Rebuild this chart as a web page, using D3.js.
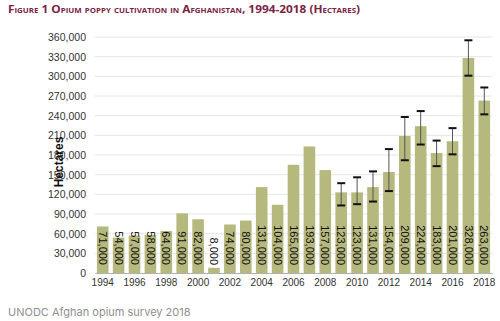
<!DOCTYPE html>
<meta charset="utf-8">
<script src="https://d3js.org/d3.v7.min.js"></script>
<style>
  body { margin: 0; background: #fff; }
</style>
<div id="chart"></div>
<script>
// data
var years = [1994, 1995, 1996, 1997, 1998, 1999, 2000, 2001, 2002, 2003, 2004, 2005, 2006,
             2007, 2008, 2009, 2010, 2011, 2012, 2013, 2014, 2015, 2016, 2017, 2018];
var hectares = [71000, 54000, 57000, 58000, 64000, 91000, 82000, 8000, 74000, 80000, 131000, 104000, 165000,
                193000, 157000, 123000, 123000, 131000, 154000, 209000, 224000, 183000, 201000, 328000, 263000];
// error bar ranges (2009-2018)
var errYears = [2009, 2010, 2011, 2012, 2013, 2014, 2015, 2016, 2017, 2018];
var errLow  = [103000, 105000, 109000, 125000, 172000, 196000, 163000, 181000, 301000, 242000];
var errHigh = [137000, 146000, 155000, 189000, 238000, 247000, 202000, 221000, 355000, 283000];
var yTicks = d3.range(0, 360001, 30000);
var xTickYears = years.filter(function(d) { return d % 2 === 0; });

var W = 500, H = 321;
var svg = d3.select("#chart").append("svg")
  .attr("width", W).attr("height", H);

var x = d3.scaleBand()
  .domain(years)
  .range([94.75, 492.25])
  .paddingInner(0.27)
  .paddingOuter(0.135);

var y = d3.scaleLinear()
  .domain([0, 360000])
  .range([273, 37]);

// title
svg.append("text")
  .attr("x", 8).attr("y", 13)
  .attr("textLength", 352)
  .attr("lengthAdjust", "spacingAndGlyphs")
  .style("font-family", "'Open Sans', 'Liberation Sans', sans-serif")
  .style("font-weight", "bold")
  .style("font-size", "10.5px")
  .style("font-variant", "small-caps")
  .style("fill", "#7b2346")
  .text("Figure 1 Opium poppy cultivation in Afghanistan, 1994-2018 (Hectares)");

// gridlines
svg.append("g")
  .selectAll("line")
  .data(yTicks.filter(function(d) { return d > 0; }))
  .enter().append("line")
    .attr("x1", 94.75).attr("x2", 492.25)
    .attr("y1", function(d) { return y(d); })
    .attr("y2", function(d) { return y(d); })
    .attr("stroke", "#e6e6e6")
    .attr("stroke-width", 1);

// y axis
var yAxis = svg.append("g")
  .attr("transform", "translate(86,0)")
  .call(d3.axisLeft(y).tickValues(yTicks).tickSize(0).tickPadding(0)
    .tickFormat(d3.format(",")));
yAxis.select(".domain").remove();
yAxis.selectAll("text")
  .style("font-family", "'Liberation Sans', Arial, sans-serif")
  .style("font-size", "10.5px")
  .style("fill", "#333");

// bars
svg.append("g")
  .selectAll("rect")
  .data(years)
  .enter().append("rect")
    .attr("x", function(d) { return x(d); })
    .attr("y", function(d, i) { return y(hectares[i]); })
    .attr("width", x.bandwidth())
    .attr("height", function(d, i) { return y(0) - y(hectares[i]); })
    .attr("fill", "#b5b97d");

// x axis
var xAxis = svg.append("g")
  .attr("transform", "translate(0,273)")
  .call(d3.axisBottom(x).tickValues(xTickYears).tickSize(0).tickPadding(6));
xAxis.select(".domain").attr("stroke", "#b0b0b0");
xAxis.selectAll("text")
  .style("font-family", "'Liberation Sans', Arial, sans-serif")
  .style("font-size", "10px")
  .style("fill", "#333");

// error bars
var eb = svg.append("g").selectAll("g")
  .data(errYears)
  .enter().append("g")
    .attr("transform", function(d) { return "translate(" + (x(d) + x.bandwidth() / 2) + ",0)"; });
eb.append("line")
  .attr("y1", function(d, i) { return y(errLow[i]); })
  .attr("y2", function(d, i) { return y(errHigh[i]); })
  .attr("stroke", "#555").attr("stroke-width", 1);
eb.append("line")
  .attr("x1", -4).attr("x2", 4)
  .attr("y1", function(d, i) { return y(errLow[i]); })
  .attr("y2", function(d, i) { return y(errLow[i]); })
  .attr("stroke", "#111").attr("stroke-width", 2);
eb.append("line")
  .attr("x1", -4).attr("x2", 4)
  .attr("y1", function(d, i) { return y(errHigh[i]); })
  .attr("y2", function(d, i) { return y(errHigh[i]); })
  .attr("stroke", "#111").attr("stroke-width", 2);

// value labels
svg.append("g")
  .selectAll("text")
  .data(years)
  .enter().append("text")
    .attr("transform", function(d) {
      return "translate(" + (x(d) + x.bandwidth() / 2) + ",265) rotate(90)";
    })
    .attr("text-anchor", "end")
    .attr("dy", "0.35em")
    .style("font-family", "'Liberation Sans', Arial, sans-serif")
    .style("font-size", "11px")
    .style("fill", "#111")
    .text(function(d, i) { return d3.format(",")(hectares[i]); });

// y title
svg.append("text")
  .attr("transform", "translate(63,162) rotate(-90)")
  .attr("text-anchor", "middle")
  .style("font-family", "'Liberation Sans', Arial, sans-serif")
  .style("font-weight", "bold")
  .style("font-size", "12px")
  .style("fill", "#111")
  .text("Hectares");

// source
svg.append("text")
  .attr("x", 8).attr("y", 316)
  .style("font-family", "Inter, 'Open Sans', sans-serif")
  .style("font-size", "11px")
  .style("fill", "#8f8f8f")
  .text("UNODC Afghan opium survey 2018");
</script>
